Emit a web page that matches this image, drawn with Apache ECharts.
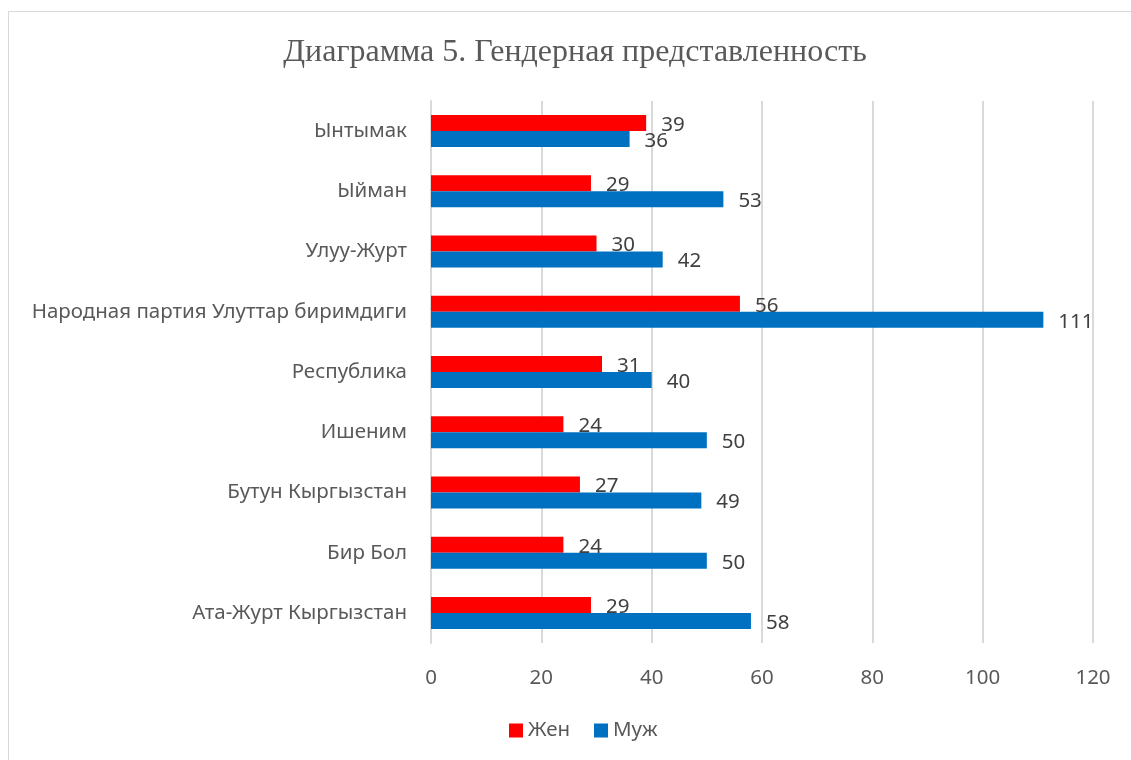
<!DOCTYPE html>
<html lang="ru">
<head>
	<meta charset="UTF-8">
	<title>Гендерная представленность</title>
	<script src="https://cdn.jsdelivr.net/npm/echarts@6/dist/echarts.min.js"></script>
	<style>
		html, body { margin: 0; padding: 0; background: #fff; }
		#frame { position: absolute; left: 8px; top: 11px; width: 1130px; height: 760px; border: 1px solid #d9d9d9; box-sizing: border-box; }
		#chart { position: absolute; left: 0; top: 0; width: 1131px; height: 760px; }
	</style>
</head>
<body>
	<div id="frame"></div>
	<div id="chart"></div>
	<script type="text/javascript">

		// bottom to top, as the category axis draws them
		const parties = [
			'Ата-Журт Кыргызстан',
			'Бир Бол',
			'Бутун Кыргызстан',
			'Ишеним',
			'Республика',
			'Народная партия Улуттар биримдиги',
			'Улуу-Журт',
			'Ыйман',
			'Ынтымак'
		];
		const women = [29, 24, 27, 24, 31, 56, 30, 29, 39];
		const men = [58, 50, 49, 50, 40, 111, 42, 53, 36];
		const xTicks = { min: 0, max: 120, interval: 20 };

		const font = 'Noto Sans';
		const fs = 20.5;
		const chart = echarts.init(document.getElementById('chart'));

		const labelStyle = {
			show: true,
			position: 'right',
			distance: 15,
			offset: [0, 2],
			fontFamily: font,
			fontSize: fs,
			color: '#404040'
		};

		chart.setOption({
			title: {
				text: 'Диаграмма 5. Гендерная представленность',
				left: 570,
				top: 32,
				textAlign: 'center',
				textStyle: {
					fontFamily: 'Liberation Serif',
					fontWeight: 'normal',
					fontSize: 32,
					color: '#595959'
				}
			},
			legend: {
				data: ['Жен', 'Муж'],
				bottom: 14,
				left: 504,
				itemWidth: 14,
				itemHeight: 14,
				itemGap: 24,
				icon: 'rect',
				textStyle: { fontFamily: font, fontSize: fs, color: '#595959' }
			},
			grid: { left: 431, right: 38, top: 101, bottom: 117 },
			xAxis: {
				type: 'value',
				min: xTicks.min,
				max: xTicks.max,
				interval: xTicks.interval,
				axisLine: { show: false },
				axisTick: { show: false },
				splitLine: { lineStyle: { color: '#d9d9d9', width: 2 } },
				axisLabel: { margin: 25, fontFamily: font, fontSize: fs, color: '#595959' }
			},
			yAxis: {
				type: 'category',
				data: parties,
				axisLine: { show: true, lineStyle: { color: '#d9d9d9', width: 2 } },
				axisTick: { show: false },
				axisLabel: { margin: 24, fontFamily: font, fontSize: fs, color: '#595959' }
			},
			series: [{
				name: 'Жен',
				type: 'bar',
				data: women,
				barWidth: 16,
				barGap: '0%',
				itemStyle: { color: '#ff0000' },
				label: labelStyle
			}, {
				name: 'Муж',
				type: 'bar',
				data: men,
				barWidth: 16,
				barGap: '0%',
				itemStyle: { color: '#0070c0' },
				label: labelStyle
			}]
		});
	</script>
</body>
</html>
